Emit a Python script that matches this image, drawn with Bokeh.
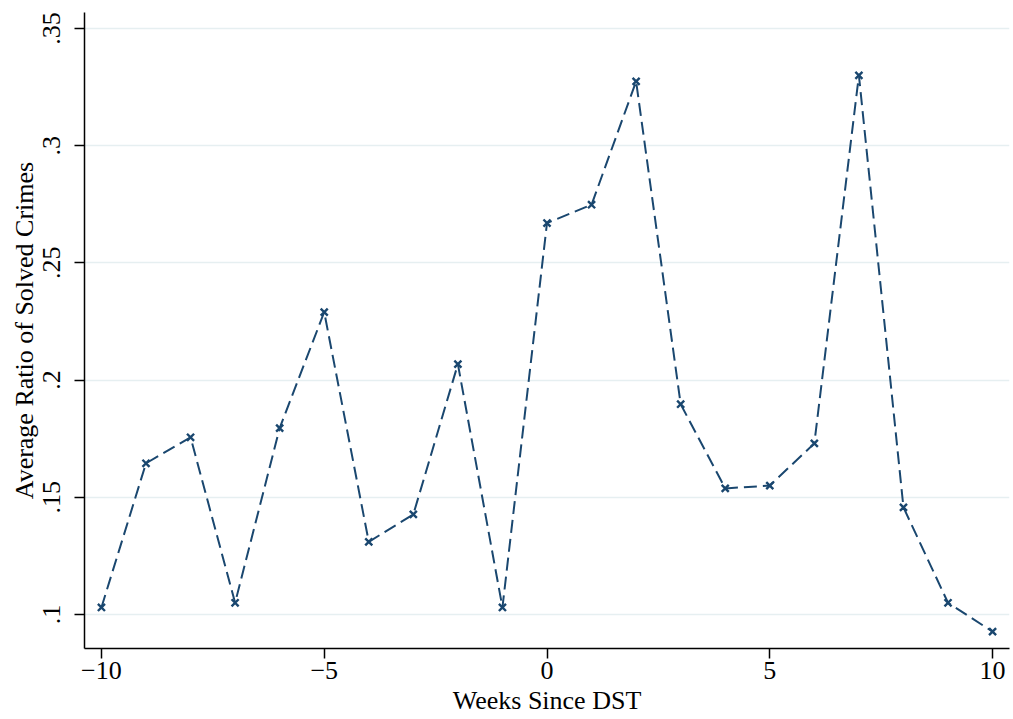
from bokeh.plotting import figure
from bokeh.models import FixedTicker, Range1d
from bokeh.embed import file_html
from bokeh.resources import INLINE

weeks = list(range(-10, 11))
ratio = [0.103, 0.1645, 0.1756, 0.105, 0.1795, 0.229, 0.131, 0.1427, 0.2068, 0.103,
         0.267, 0.2748, 0.3274, 0.1897, 0.1538, 0.155, 0.173, 0.330, 0.1457, 0.105, 0.0927]

x_ticks = [-10, -5, 0, 5, 10]
x_tick_labels = ["\u221210", "\u22125", "0", "5", "10"]
y_ticks = [0.1, 0.15, 0.2, 0.25, 0.3, 0.35]
y_tick_labels = [".1", ".15", ".2", ".25", ".3", ".35"]

FONT = "Liberation Serif"
COLOR = "#1a476f"

p = figure(width=1011, height=719, output_backend="svg", toolbar_location=None,
           x_range=Range1d(-10.38, 10.38), y_range=Range1d(0.0855, 0.3568),
           min_border_left=84, min_border_right=2, min_border_top=12, min_border_bottom=71)
p.outline_line_color = None
p.background_fill_color = "white"
p.border_fill_color = "white"

p.xgrid.visible = False
p.ygrid.grid_line_color = "#e6eff1"
p.ygrid.grid_line_width = 1.5

p.xaxis.ticker = FixedTicker(ticks=x_ticks)
p.xaxis.major_label_overrides = dict(zip(x_ticks, x_tick_labels))
p.yaxis.ticker = FixedTicker(ticks=y_ticks)
p.yaxis.major_label_overrides = dict(zip(y_ticks, y_tick_labels))
p.yaxis.major_label_orientation = "vertical"

for ax in (p.xaxis[0], p.yaxis[0]):
    ax.axis_line_color = "black"
    ax.axis_line_width = 1.5
    ax.major_tick_line_color = "black"
    ax.major_tick_line_width = 1.5
    ax.major_tick_in = 0
    ax.major_tick_out = 10
    ax.minor_tick_line_color = None
    ax.major_label_text_font = FONT
    ax.major_label_text_font_size = "26px"
    ax.major_label_text_color = "black"
    ax.axis_label_text_font = FONT
    ax.axis_label_text_font_size = "26px"
    ax.axis_label_text_font_style = "normal"
    ax.axis_label_text_color = "black"

p.xaxis.axis_label = "Weeks Since DST"
p.yaxis.axis_label = "Average Ratio of Solved Crimes"
p.xaxis.major_label_standoff = 3
p.xaxis.axis_label_standoff = 4
p.yaxis.major_label_standoff = 14
p.yaxis.axis_label_standoff = 2

p.line(weeks, ratio, line_color=COLOR, line_width=2, line_dash="13 6")
p.scatter(weeks, ratio, marker="x", size=10, line_color=COLOR, line_width=2.4)

open("out.html", "w").write(file_html(p, INLINE))
